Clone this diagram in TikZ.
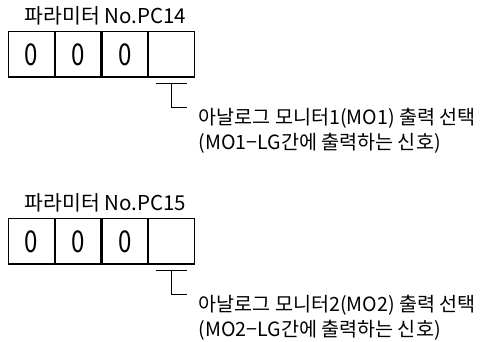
\documentclass[tikz,border=0pt]{standalone}
\usepackage{fontspec}
\setmainfont{Noto Sans CJK KR}
\usetikzlibrary{calc}
\newcommand{\narrowtxt}[2]{\scalebox{#1}[1]{#2}}
\begin{document}
\begin{tikzpicture}[x=1pt,y=-1pt,line width=1.2pt,
  cell/.style={draw,minimum width=45.5pt,minimum height=45.5pt,inner sep=0pt,
    anchor=north west,font=\fontsize{30}{30}\selectfont},
  ttl/.style={anchor=west,inner sep=0pt,font=\fontsize{20.5}{20.5}\selectfont},
  dtext/.style={anchor=west,inner sep=0pt,font=\fontsize{19.6}{19.6}\selectfont},
  lead/.style={line width=1.2pt}]
\useasboundingbox (0,0) rectangle (480,342);
\foreach \dy/\pc/\m in {0/14/1,187/15/2} {
  \node[ttl] (title\m) at (24,16+\dy) {파라미터 No.PC\pc};
  \node[cell] (c\m-a) at (8,31+\dy) {\narrowtxt{0.8}{0}};
  \node[cell] (c\m-b) at (c\m-a.north east) {\narrowtxt{0.8}{0}};
  \node[cell] (c\m-c) at (c\m-b.north east) {\narrowtxt{0.8}{0}};
  \node[cell] (c\m-d) at (c\m-c.north east) {};
  \coordinate (bl\m) at ($(c\m-d.south)+(-15.5,5.5)$);
  \coordinate (br\m) at ($(c\m-d.south)+(15.5,5.5)$);
  \coordinate (bm\m) at ($(c\m-d.south)+(0,5.5)$);
  \coordinate (ft\m) at ($(c\m-d.south)+(0,29.5)$);
  \coordinate (fe\m) at ($(c\m-d.south)+(15.5,29.5)$);
  \draw[lead] (bl\m) -- (br\m);
  \draw[lead] (bm\m) -- (ft\m) -- (fe\m);
  \node[dtext] (la\m) at (198,118+\dy) {아날로그 모니터\m(MO\m) 출력 선택};
  \node[dtext] (lb\m) at (198,143+\dy) {(MO\m−LG간에 출력하는 신호)};
}
\end{tikzpicture}
\end{document}
